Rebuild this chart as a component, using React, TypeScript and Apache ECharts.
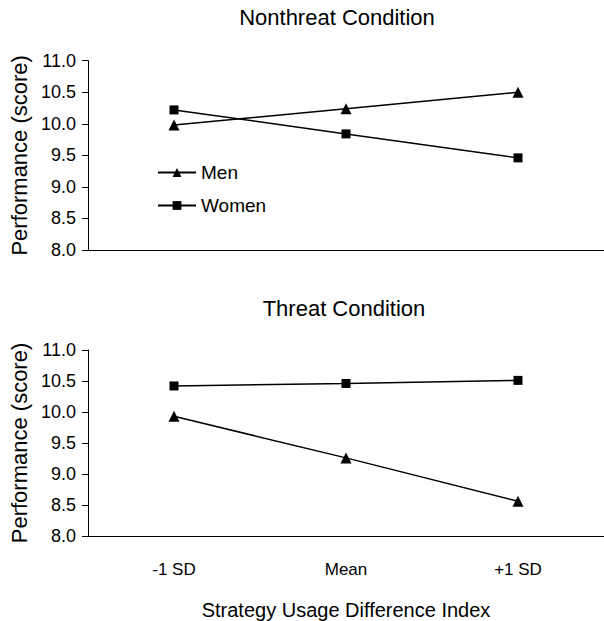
import React, { useEffect, useRef } from "react";
import * as echarts from "echarts";

const categories = ["-1 SD", "Mean", "+1 SD"];
const nonthreatMen = [9.98, 10.24, 10.5];
const nonthreatWomen = [10.22, 9.84, 9.46];
const threatMen = [9.93, 9.26, 8.56];
const threatWomen = [10.42, 10.46, 10.51];
const panelTitles = ["Nonthreat Condition", "Threat Condition"];
const yAxisName = "Performance (score)";
const xAxisName = "Strategy Usage Difference Index";

const FONT = "'Liberation Sans', Arial, sans-serif";

export default function App() {
  const ref = useRef<HTMLDivElement>(null);
  useEffect(() => {
    if (!ref.current) return;
    const chart = echarts.init(ref.current, undefined, { renderer: "svg" });
    const yAxisBase = (gridIndex: number) => ({
      type: "value" as const,
      gridIndex,
      min: 8,
      max: 11,
      interval: 0.5,
      name: yAxisName,
      nameLocation: "middle" as const,
      nameGap: 53,
      nameTextStyle: { fontFamily: FONT, fontSize: 22, color: "#000" },
      axisLine: { show: true, lineStyle: { color: "#000", width: 1 } },
      axisTick: { show: true, length: 6, inside: false, lineStyle: { color: "#000" } },
      axisLabel: {
        fontFamily: FONT,
        fontSize: 18,
        color: "#000",
        margin: 12,
        formatter: (v: number) => v.toFixed(1),
      },
      splitLine: { show: false },
    });
    const xAxisBase = (gridIndex: number, showLabels: boolean) => ({
      type: "category" as const,
      gridIndex,
      data: categories,
      boundaryGap: true,
      axisLine: { show: true, lineStyle: { color: "#000", width: 1 } },
      axisTick: { show: false },
      axisLabel: {
        show: showLabels,
        fontFamily: FONT,
        fontSize: 17,
        color: "#000",
        margin: 25,
      },
      name: showLabels ? xAxisName : "",
      nameLocation: "middle" as const,
      nameGap: 64,
      nameTextStyle: { fontFamily: FONT, fontSize: 20, color: "#000" },
      splitLine: { show: false },
    });
    const lineSeries = (
      name: string,
      data: number[],
      idx: number,
      symbol: string,
      size: number
    ) => ({
      type: "line" as const,
      name,
      data,
      xAxisIndex: idx,
      yAxisIndex: idx,
      symbol,
      symbolSize: size,
      showAllSymbol: true,
      lineStyle: { color: "#000", width: 1.5 },
      itemStyle: { color: "#000" },
    });
    const titleText = (text: string, x: number, y: number) => ({
      type: "text" as const,
      x,
      y,
      style: {
        text,
        textAlign: "center",
        textVerticalAlign: "middle",
        fontFamily: FONT,
        fontSize: 22,
        fill: "#000",
      },
    });
    chart.setOption({
      animation: false,
      backgroundColor: "#fff",
      graphic: [
        titleText(panelTitles[0], 337, 17),
        titleText(panelTitles[1], 344, 308),
      ],
      legend: {
        data: ["Men", "Women"],
        orient: "vertical",
        left: 157,
        top: 163,
        padding: 0,
        itemWidth: 38,
        itemHeight: 11,
        itemGap: 14,
        textStyle: { fontFamily: FONT, fontSize: 19, color: "#000" },
        selectedMode: false,
      },
      grid: [
        { left: 88, top: 60.7, width: 516, height: 189.3, containLabel: false },
        { left: 88, top: 350, width: 516, height: 191.7, containLabel: false },
      ],
      xAxis: [xAxisBase(0, false), xAxisBase(1, true)],
      yAxis: [yAxisBase(0), yAxisBase(1)],
      series: [
        lineSeries("Men", nonthreatMen, 0, "triangle", 11),
        lineSeries("Women", nonthreatWomen, 0, "rect", 9),
        lineSeries("Men", threatMen, 1, "triangle", 11),
        lineSeries("Women", threatWomen, 1, "rect", 9),
      ],
    });
    return () => chart.dispose();
  }, []);
  return (
    <div
      ref={ref}
      style={{ position: "fixed", left: 0, top: 0, width: 604, height: 621 }}
    />
  );
}
